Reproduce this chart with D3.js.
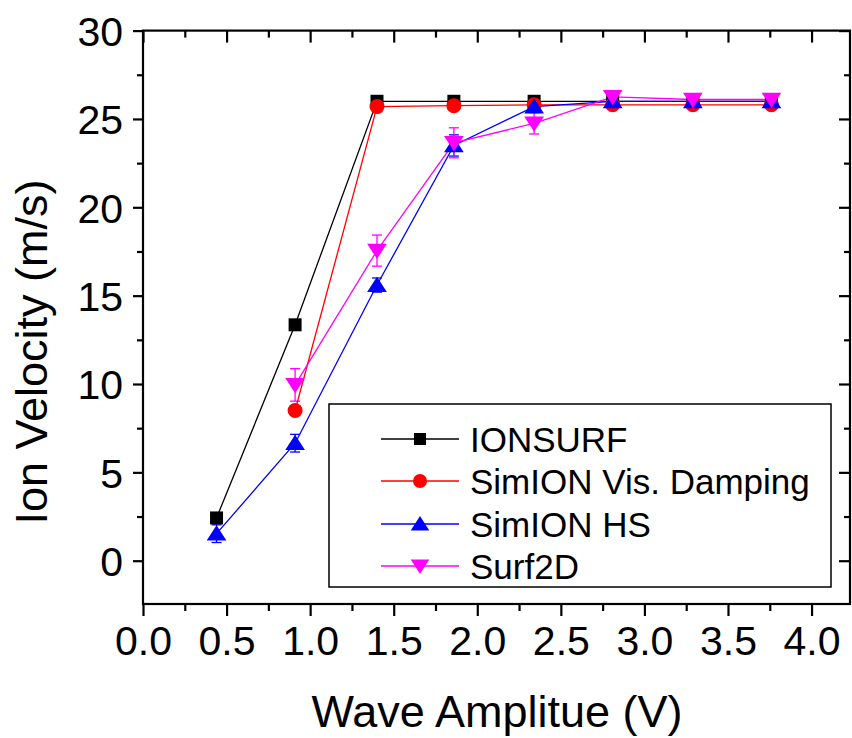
<!DOCTYPE html>
<html>
<head>
<meta charset="utf-8">
<script src="https://cdn.jsdelivr.net/npm/d3@7"></script>
<style>
  html, body { margin: 0; padding: 0; background: #fff; }
  svg { display: block; font-family: Arial, "Liberation Sans", sans-serif; }
</style>
</head>
<body>
<svg id="chart" width="852" height="738"></svg>
<script>
// wave amplitude (V)
var amplitude = [0.44, 0.91, 1.40, 1.86, 2.34, 2.81, 3.29, 3.76];

// ion velocity (m/s); null = no point
var ionsurf    = [2.42, 13.35, 26.0, 26.0, 26.0, 26.0, 26.0, 26.0];
var simionVis  = [null, 8.5, 25.7, 25.75, 25.8, 25.8, 25.8, 25.8];
var simionHS   = [1.53, 6.65, 15.6, 23.5, 25.7, 26.0, 26.0, 26.0];
var simionHSErr = [0.5, 0.5, 0.4, 0.6, 0.2, 0.3, 0.3, 0.3];
var surf2d     = [null, 9.95, 17.55, 23.65, 24.75, 26.25, 26.1, 26.1];
var surf2dErr  = [null, 0.92, 0.88, 0.85, 0.6, 0.3, 0.3, 0.3];

var seriesNames = ["IONSURF", "SimION Vis. Damping", "SimION HS", "Surf2D"];
var seriesColors = ["#000000", "#ff0000", "#0000ff", "#ff00ff"];
var seriesSymbols = ["square", "circle", "triangleUp", "triangleDown"];

var xTicks = [0, 0.5, 1.0, 1.5, 2.0, 2.5, 3.0, 3.5, 4.0];
var yTicks = [0, 5, 10, 15, 20, 25, 30];

var svg = d3.select("#chart");

var x = d3.scaleLinear().domain([0, 4.23]).range([143, 850]);
var y = d3.scaleLinear().domain([-2.45, 30]).range([604, 30.6]);

var left = x.range()[0], right = x.range()[1];
var top_ = y.range()[1], bottom = y.range()[0];

var xMinor = d3.range(0.25, 4.23, 0.5);
var yMinor = d3.range(2.5, 30, 5);

var series = [ionsurf, simionVis, simionHS, surf2d];
var errors = [null, null, simionHSErr, surf2dErr];

// marker shapes
function markerPath(sym, s) {
    if (sym == "square") return d3.symbol(d3.symbolSquare, s * s)();
    if (sym == "circle") return d3.symbol(d3.symbolCircle, Math.PI * s * s / 4)();
    var h = s * 0.9, w = s * 0.58;
    if (sym == "triangleUp")
        return "M0," + (-h * 0.55) + "L" + w + "," + (h * 0.45) + "L" + (-w) + "," + (h * 0.45) + "Z";
    return "M0," + (h * 0.55) + "L" + w + "," + (-h * 0.45) + "L" + (-w) + "," + (-h * 0.45) + "Z";
}
var markerSize = [13, 15, 17, 17];

// error bars (drawn first, under lines)
var errLayer = svg.append("g");
series.forEach(function(vals, si) {
    if (!errors[si]) return;
    amplitude.forEach(function(a, i) {
        var v = vals[i], e = errors[si][i];
        if (v == null || e == null) return;
        var g = errLayer.append("g")
            .attr("stroke", seriesColors[si])
            .attr("stroke-width", 1.3);
        g.append("line")
            .attr("x1", x(a)).attr("x2", x(a))
            .attr("y1", y(v - e)).attr("y2", y(v + e));
        [v - e, v + e].forEach(function(ev) {
            g.append("line")
                .attr("x1", x(a) - 5).attr("x2", x(a) + 5)
                .attr("y1", y(ev)).attr("y2", y(ev));
        });
    });
});

// lines
var line = d3.line()
    .defined(function(d) { return d[1] != null; })
    .x(function(d) { return x(d[0]); })
    .y(function(d) { return y(d[1]); });

series.forEach(function(vals, si) {
    svg.append("path")
        .attr("d", line(d3.zip(amplitude, vals)))
        .attr("fill", "none")
        .attr("stroke", seriesColors[si])
        .attr("stroke-width", 1.3);
});

// markers
series.forEach(function(vals, si) {
    svg.append("g")
        .selectAll("path")
        .data(d3.zip(amplitude, vals).filter(function(d) { return d[1] != null; }))
        .enter()
        .append("path")
        .attr("transform", function(d) { return "translate(" + x(d[0]) + "," + y(d[1]) + ")"; })
        .attr("d", markerPath(seriesSymbols[si], markerSize[si]))
        .attr("fill", seriesColors[si]);
});

// axes
function styleAxis(g) {
    g.select(".domain").remove();
    g.selectAll("line").attr("stroke", "#000").attr("stroke-width", 2.2);
}

var axisFont = 41;

svg.append("g")
    .attr("transform", "translate(0," + bottom + ")")
    .call(d3.axisBottom(x).tickValues(xTicks).tickSize(12).tickPadding(10).tickFormat(d3.format(".1f")))
    .call(styleAxis)
    .call(function(g) {
        g.selectAll("text").attr("font-size", axisFont).attr("fill", "#000")
            .attr("font-family", "Arial, 'Liberation Sans', sans-serif");
    });
svg.append("g")
    .attr("transform", "translate(0," + bottom + ")")
    .call(d3.axisBottom(x).tickValues(xMinor).tickSize(7).tickFormat(""))
    .call(styleAxis);

svg.append("g")
    .attr("transform", "translate(" + left + ",0)")
    .call(d3.axisLeft(y).tickValues(yTicks).tickSize(10).tickPadding(10))
    .call(styleAxis)
    .call(function(g) {
        g.selectAll("text").attr("font-size", axisFont).attr("fill", "#000")
            .attr("font-family", "Arial, 'Liberation Sans', sans-serif")
            .attr("dy", "0.36em");
    });
svg.append("g")
    .attr("transform", "translate(" + left + ",0)")
    .call(d3.axisLeft(y).tickValues(yMinor).tickSize(6).tickFormat(""))
    .call(styleAxis);

// mirrored top / right, ticks inward
svg.append("g")
    .attr("transform", "translate(0," + top_ + ")")
    .call(d3.axisBottom(x).tickValues(xTicks).tickSize(12).tickFormat(""))
    .call(styleAxis);
svg.append("g")
    .attr("transform", "translate(0," + top_ + ")")
    .call(d3.axisBottom(x).tickValues(xMinor).tickSize(7).tickFormat(""))
    .call(styleAxis);
svg.append("g")
    .attr("transform", "translate(" + right + ",0)")
    .call(d3.axisLeft(y).tickValues(yTicks).tickSize(11).tickFormat(""))
    .call(styleAxis);
svg.append("g")
    .attr("transform", "translate(" + right + ",0)")
    .call(d3.axisLeft(y).tickValues(yMinor).tickSize(6).tickFormat(""))
    .call(styleAxis);

// frame
svg.append("rect")
    .attr("x", left).attr("y", top_)
    .attr("width", right - left).attr("height", bottom - top_)
    .attr("fill", "none")
    .attr("stroke", "#000")
    .attr("stroke-width", 2.2);

// axis titles
svg.append("text")
    .attr("x", 497)
    .attr("y", 727)
    .attr("text-anchor", "middle")
    .attr("font-size", 45)
    .text("Wave Amplitue (V)");

svg.append("text")
    .attr("transform", "translate(47,352) rotate(-90)")
    .attr("text-anchor", "middle")
    .attr("font-size", 45)
    .text("Ion Velocity (m/s)");

// legend
var legend = svg.append("g");
legend.append("rect")
    .attr("x", 329).attr("y", 404)
    .attr("width", 502).attr("height", 183)
    .attr("fill", "#fff")
    .attr("stroke", "#000")
    .attr("stroke-width", 1.5);

var legendRowY = [439, 481, 524, 566];
seriesNames.forEach(function(name, si) {
    var row = legend.append("g").attr("transform", "translate(0," + legendRowY[si] + ")");
    row.append("line")
        .attr("x1", 381).attr("x2", 459)
        .attr("stroke", seriesColors[si])
        .attr("stroke-width", 1.3);
    row.append("path")
        .attr("transform", "translate(420,0)")
        .attr("d", markerPath(seriesSymbols[si], markerSize[si] - 1))
        .attr("fill", seriesColors[si]);
    row.append("text")
        .attr("x", 470)
        .attr("dy", "0.36em")
        .attr("font-size", 35)
        .text(name);
});
</script>
</body>
</html>
